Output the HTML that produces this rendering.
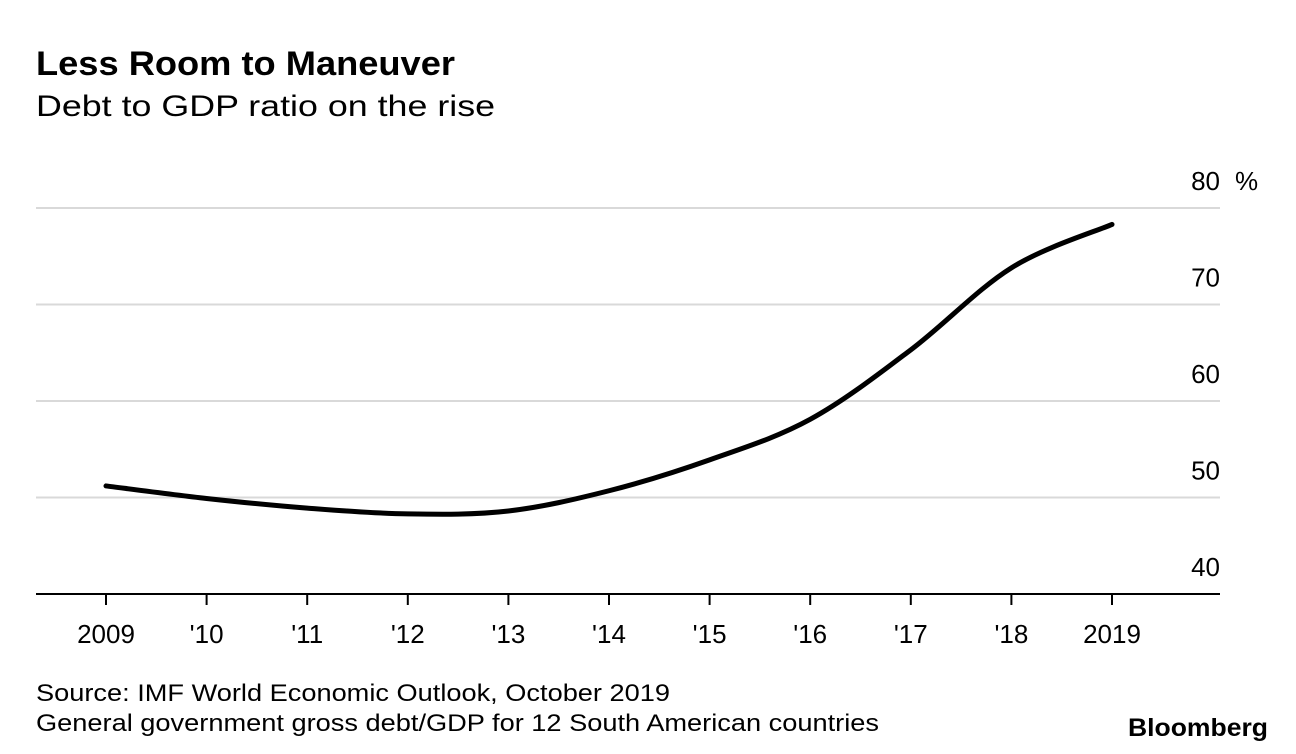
<!DOCTYPE html>
<html><head><meta charset="utf-8"><style>
html,body{margin:0;padding:0;background:#fff;}
svg{display:block;font-family:"Liberation Sans",Arial,sans-serif;}
</style></head><body>
<svg width="1296" height="754" viewBox="0 0 1296 754">
<text x="36" y="75" font-size="34" font-weight="bold" fill="#000" textLength="419" lengthAdjust="spacingAndGlyphs">Less Room to Maneuver</text>
<text x="36" y="116" font-size="30" fill="#000" textLength="459" lengthAdjust="spacingAndGlyphs">Debt to GDP ratio on the rise</text>
<g id="grid"></g>
<g id="xaxis"></g>
<path id="line" fill="none" stroke="#000" stroke-width="5" stroke-linecap="round"></path>
<text x="1235" y="190" font-size="26" fill="#000">%</text>
<text x="36" y="701" font-size="24" fill="#000" textLength="634" lengthAdjust="spacingAndGlyphs">Source: IMF World Economic Outlook, October 2019</text>
<text x="36" y="731" font-size="24" fill="#000" textLength="843" lengthAdjust="spacingAndGlyphs">General government gross debt/GDP for 12 South American countries</text>
<text x="1268" y="736" font-size="25" font-weight="bold" fill="#000" text-anchor="end" textLength="140" lengthAdjust="spacingAndGlyphs">Bloomberg</text>
</svg>
<script>
const years = [2009,2010,2011,2012,2013,2014,2015,2016,2017,2018,2019];
const values = [51.2,49.9,48.9,48.3,48.6,50.7,53.9,58.1,65.3,73.8,78.3];
const xLabels = ["2009","'10","'11","'12","'13","'14","'15","'16","'17","'18","2019"];
const yTicks = [40,50,60,70,80];

const NS="http://www.w3.org/2000/svg";
const xScale = y => 106 + (y-2009)*100.6;
const yScale = v => 594 - (v-40)*9.65;
function mk(tag, attrs, parent){const e=document.createElementNS(NS,tag);for(const k in attrs)e.setAttribute(k,attrs[k]);parent.appendChild(e);return e;}
const grid=document.getElementById('grid');
yTicks.forEach(t=>{
  if(t>40){
    const l=mk('line',{x1:36,x2:1220,y1:yScale(t),y2:yScale(t),stroke:'#d9d9d9','stroke-width':2},grid);
    
    
  }
  const tx=mk('text',{x:1220,y:yScale(t)-18,'font-size':26,'text-anchor':'end',fill:'#000'},grid);
  tx.textContent=t;
  
  
});
const xa=document.getElementById('xaxis');
const base=mk('line',{x1:36,x2:1220,y1:594,y2:594,stroke:'#000','stroke-width':2},xa);


years.forEach((y,i)=>{
  const tk=mk('line',{x1:xScale(y),x2:xScale(y),y1:594,y2:605,stroke:'#000','stroke-width':2},xa);
  
  
  const tx=mk('text',{x:xScale(y),y:643,'font-size':26,'text-anchor':'middle',fill:'#000'},xa);
  tx.textContent=xLabels[i];
  
  
});
const pts=years.map((y,i)=>[xScale(y),yScale(values[i])]);
let d='M'+pts[0][0]+','+pts[0][1];
for(let i=0;i<pts.length-1;i++){
  const p0=pts[i-1]||pts[i],p1=pts[i],p2=pts[i+1],p3=pts[i+2]||p2;
  const c1=[p1[0]+(p2[0]-p0[0])/6,p1[1]+(p2[1]-p0[1])/6];
  const c2=[p2[0]-(p3[0]-p1[0])/6,p2[1]-(p3[1]-p1[1])/6];
  d+=' C'+c1+' '+c2+' '+p2;
}
document.getElementById('line').setAttribute('d',d);
</script>
</body></html>
